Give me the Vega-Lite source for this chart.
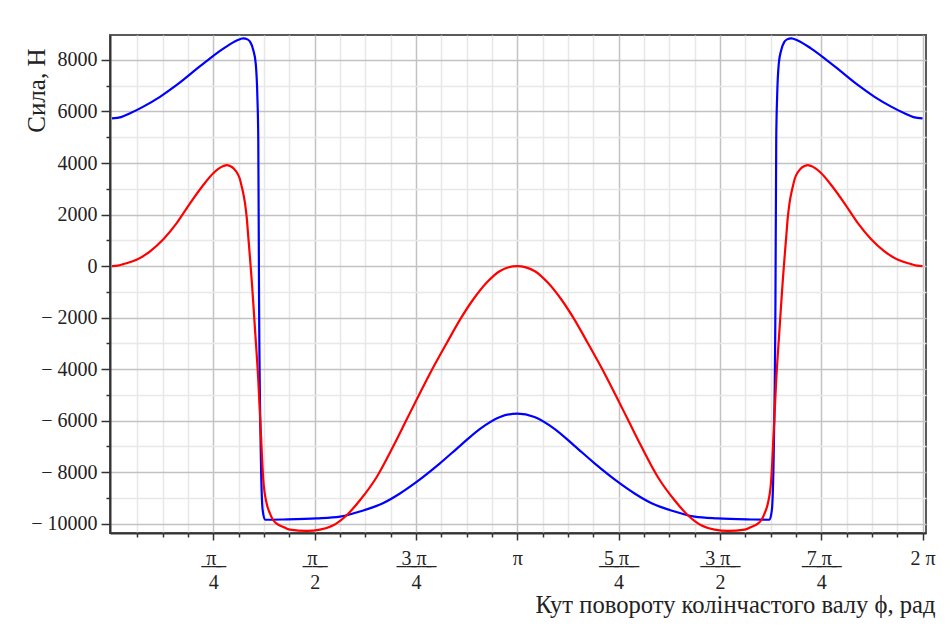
{
  "$schema": "https://vega.github.io/schema/vega-lite/v6.json",
  "width": 816,
  "height": 498,
  "autosize": {"type": "none"},
  "padding": {"left": 110, "top": 35, "right": 23, "bottom": 93},
  "background": "white",
  "config": {"view": {"stroke": "#5a5a5a", "strokeWidth": 2}, "font": "Liberation Serif, serif"},
  "datasets": {
    "blue": [
      {"phi": 0, "F": 5730}, {"phi": 0.07, "F": 5780}, {"phi": 0.14, "F": 5930}, {"phi": 0.243, "F": 6190}, {"phi": 0.372, "F": 6570},
      {"phi": 0.502, "F": 7030}, {"phi": 0.63, "F": 7545}, {"phi": 0.76, "F": 8065}, {"phi": 0.863, "F": 8440},
      {"phi": 0.967, "F": 8760}, {"phi": 1.018, "F": 8840}, {"phi": 1.05, "F": 8800}, {"phi": 1.07, "F": 8710},
      {"phi": 1.095, "F": 8390}, {"phi": 1.114, "F": 7870}, {"phi": 1.127, "F": 6575}, {"phi": 1.134, "F": 4890},
      {"phi": 1.14, "F": -1320}, {"phi": 1.153, "F": -7150}, {"phi": 1.168, "F": -9480}, {"phi": 1.186, "F": -9850},
      {"phi": 1.328, "F": -9840}, {"phi": 1.587, "F": -9800}, {"phi": 1.767, "F": -9730}, {"phi": 1.922, "F": -9530},
      {"phi": 2.1, "F": -9210}, {"phi": 2.232, "F": -8830}, {"phi": 2.356, "F": -8400}, {"phi": 2.542, "F": -7660},
      {"phi": 2.698, "F": -6980}, {"phi": 2.853, "F": -6320}, {"phi": 3.008, "F": -5860}, {"phi": 3.1416, "F": -5730},
      {"phi": 3.275, "F": -5860}, {"phi": 3.43, "F": -6320}, {"phi": 3.585, "F": -6980}, {"phi": 3.741, "F": -7660},
      {"phi": 3.927, "F": -8400}, {"phi": 4.051, "F": -8830}, {"phi": 4.183, "F": -9210}, {"phi": 4.361, "F": -9530},
      {"phi": 4.516, "F": -9730}, {"phi": 4.696, "F": -9800}, {"phi": 4.955, "F": -9840}, {"phi": 5.097, "F": -9850},
      {"phi": 5.115, "F": -9480}, {"phi": 5.13, "F": -7150}, {"phi": 5.143, "F": -1320}, {"phi": 5.149, "F": 4890},
      {"phi": 5.156, "F": 6575}, {"phi": 5.169, "F": 7870}, {"phi": 5.188, "F": 8390}, {"phi": 5.213, "F": 8710},
      {"phi": 5.233, "F": 8800}, {"phi": 5.265, "F": 8840}, {"phi": 5.316, "F": 8760}, {"phi": 5.42, "F": 8440},
      {"phi": 5.523, "F": 8065}, {"phi": 5.653, "F": 7545}, {"phi": 5.781, "F": 7030}, {"phi": 5.911, "F": 6570},
      {"phi": 6.04, "F": 6190}, {"phi": 6.143, "F": 5930}, {"phi": 6.213, "F": 5780}, {"phi": 6.2832, "F": 5730}
    ],
    "red": [
      {"phi": 0, "F": 0}, {"phi": 0.044, "F": 19}, {"phi": 0.088, "F": 75}, {"phi": 0.19, "F": 240}, {"phi": 0.295, "F": 570},
      {"phi": 0.4, "F": 1050}, {"phi": 0.5, "F": 1655}, {"phi": 0.605, "F": 2435}, {"phi": 0.708, "F": 3145},
      {"phi": 0.785, "F": 3600}, {"phi": 0.863, "F": 3880}, {"phi": 0.889, "F": 3920}, {"phi": 0.915, "F": 3880},
      {"phi": 0.945, "F": 3780}, {"phi": 0.967, "F": 3640}, {"phi": 0.99, "F": 3400}, {"phi": 1.005, "F": 3100},
      {"phi": 1.031, "F": 2440}, {"phi": 1.044, "F": 1910},
      {"phi": 1.057, "F": 1100}, {"phi": 1.07, "F": 300}, {"phi": 1.083, "F": -550}, {"phi": 1.096, "F": -1500},
      {"phi": 1.109, "F": -2490}, {"phi": 1.134, "F": -4430}, {"phi": 1.153, "F": -6375}, {"phi": 1.173, "F": -8315},
      {"phi": 1.199, "F": -9220}, {"phi": 1.225, "F": -9610}, {"phi": 1.25, "F": -9870}, {"phi": 1.277, "F": -10000},
      {"phi": 1.328, "F": -10130}, {"phi": 1.38, "F": -10235}, {"phi": 1.509, "F": -10285}, {"phi": 1.612, "F": -10235},
      {"phi": 1.716, "F": -10065}, {"phi": 1.819, "F": -9675}, {"phi": 1.922, "F": -9095}, {"phi": 2.052, "F": -8190},
      {"phi": 2.181, "F": -6990}, {"phi": 2.284, "F": -5960}, {"phi": 2.362, "F": -5180}, {"phi": 2.465, "F": -4170},
      {"phi": 2.595, "F": -2990}, {"phi": 2.698, "F": -2080}, {"phi": 2.801, "F": -1290}, {"phi": 2.905, "F": -640},
      {"phi": 3.008, "F": -190}, {"phi": 3.1416, "F": 0},
      {"phi": 3.275, "F": -190}, {"phi": 3.378, "F": -640}, {"phi": 3.482, "F": -1290}, {"phi": 3.585, "F": -2080},
      {"phi": 3.688, "F": -2990}, {"phi": 3.818, "F": -4170}, {"phi": 3.921, "F": -5180}, {"phi": 3.999, "F": -5960},
      {"phi": 4.102, "F": -6990}, {"phi": 4.231, "F": -8190}, {"phi": 4.361, "F": -9095}, {"phi": 4.464, "F": -9675},
      {"phi": 4.567, "F": -10065}, {"phi": 4.671, "F": -10235}, {"phi": 4.774, "F": -10285}, {"phi": 4.903, "F": -10235},
      {"phi": 4.955, "F": -10130}, {"phi": 5.006, "F": -10000}, {"phi": 5.033, "F": -9870}, {"phi": 5.058, "F": -9610},
      {"phi": 5.084, "F": -9220}, {"phi": 5.11, "F": -8315}, {"phi": 5.13, "F": -6375}, {"phi": 5.149, "F": -4430},
      {"phi": 5.174, "F": -2490}, {"phi": 5.187, "F": -1500}, {"phi": 5.2, "F": -550}, {"phi": 5.213, "F": 300},
      {"phi": 5.226, "F": 1100}, {"phi": 5.239, "F": 1910}, {"phi": 5.252, "F": 2440}, {"phi": 5.278, "F": 3100},
      {"phi": 5.293, "F": 3400}, {"phi": 5.316, "F": 3640}, {"phi": 5.338, "F": 3780}, {"phi": 5.368, "F": 3880},
      {"phi": 5.394, "F": 3920}, {"phi": 5.42, "F": 3880},
      {"phi": 5.498, "F": 3600}, {"phi": 5.575, "F": 3145}, {"phi": 5.678, "F": 2435}, {"phi": 5.783, "F": 1655},
      {"phi": 5.883, "F": 1050}, {"phi": 5.988, "F": 570}, {"phi": 6.093, "F": 240}, {"phi": 6.195, "F": 75},
      {"phi": 6.239, "F": 19}, {"phi": 6.2832, "F": 0}
    ]
  },
  "layer": [
    {
      "data": {"name": "blue"},
      "mark": {"type": "line", "color": "#0000ff", "strokeWidth": 2.2, "interpolate": "monotone", "clip": true},
      "encoding": {
        "x": {
          "field": "phi", "type": "quantitative",
          "scale": {"domain": [-0.0155, 6.31], "nice": false, "zero": false},
          "axis": {
            "orient": "bottom",
            "values": [0.785398, 1.570796, 2.356194, 3.141593, 3.926991, 4.712389, 5.497787, 6.283185],
            "domain": true, "domainColor": "#333333", "domainWidth": 2,
            "ticks": true, "tickSize": 7, "tickColor": "#333333", "tickWidth": 1.5,
            "grid": true, "gridColor": "#c2c2c2", "gridWidth": 1.5,
            "labelFont": "Liberation Serif, serif", "labelFontSize": 20, "labelColor": "#222222",
            "labelPadding": 8, "labelBaseline": "top", "labelAlign": "center", "labelLineHeight": 24,
            "labelFlush": false, "labelOverlap": false, "labelBound": false,
            "labelExpr": "round(datum.value / 0.785398) == 1 ? ['\u00a0\u0332π\u0332\u00a0\u0332', '4'] : round(datum.value / 0.785398) == 2 ? ['\u00a0\u0332π\u0332\u00a0\u0332', '2'] : round(datum.value / 0.785398) == 3 ? ['\u00a0\u03323\u0332\u00a0\u0332π\u0332\u00a0\u0332', '4'] : round(datum.value / 0.785398) == 4 ? 'π' : round(datum.value / 0.785398) == 5 ? ['\u00a0\u03325\u0332\u00a0\u0332π\u0332\u00a0\u0332', '4'] : round(datum.value / 0.785398) == 6 ? ['\u00a0\u03323\u0332\u00a0\u0332π\u0332\u00a0\u0332', '2'] : round(datum.value / 0.785398) == 7 ? ['\u00a0\u03327\u0332\u00a0\u0332π\u0332\u00a0\u0332', '4'] : '2 π'",
            "title": "Кут повороту колінчастого валу ϕ, рад",
            "titleFont": "Liberation Serif, serif", "titleFontSize": 24.6, "titleFontWeight": "normal", "titleColor": "#222222",
            "titleX": 825, "titleY": 79, "titleAlign": "right", "titleBaseline": "alphabetic", "titleAnchor": "end"
          }
        },
        "y": {
          "field": "F", "type": "quantitative",
          "scale": {"domain": [-10365, 8970], "nice": false, "zero": false},
          "axis": {
            "orient": "left",
            "values": [-10000, -8000, -6000, -4000, -2000, 0, 2000, 4000, 6000, 8000],
            "domain": true, "domainColor": "#333333", "domainWidth": 2,
            "ticks": true, "tickSize": 9, "tickColor": "#333333", "tickWidth": 1.5,
            "grid": true, "gridColor": "#c2c2c2", "gridWidth": 1.5,
            "labelFont": "Liberation Serif, serif", "labelFontSize": 20, "labelColor": "#222222",
            "labelPadding": 4, "labelFlush": false, "labelOverlap": false, "labelBound": false,
            "labelExpr": "datum.value < 0 ? '− ' + format(-datum.value, 'd') : format(datum.value, 'd')",
            "title": "Сила, Н",
            "titleFont": "Liberation Serif, serif", "titleFontSize": 25, "titleFontWeight": "normal", "titleColor": "#222222",
            "titleAngle": -90, "titleX": -74, "titleY": 13, "titleAlign": "right", "titleBaseline": "middle"
          }
        }
      }
    },
    {
      "data": {"name": "red"},
      "mark": {"type": "line", "color": "#ff0000", "strokeWidth": 2.2, "interpolate": "monotone", "clip": true},
      "encoding": {
        "x": {
          "field": "phi", "type": "quantitative",
          "axis": {
            "orient": "bottom",
            "values": [0.19635, 0.3927, 0.58905, 0.98175, 1.1781, 1.37445, 1.76715, 1.9635, 2.15984, 2.55254, 2.74889, 2.94524, 3.33794, 3.53429, 3.73064, 4.12334, 4.31969, 4.51604, 4.90874, 5.10509, 5.30144, 5.69414, 5.89049, 6.08684],
            "domain": false, "labels": false, "title": null,
            "ticks": true, "tickSize": 4, "tickColor": "#333333", "tickWidth": 1.5,
            "grid": true, "gridColor": "#e8e8e8", "gridWidth": 1.5
          }
        },
        "y": {
          "field": "F", "type": "quantitative",
          "axis": {
            "orient": "left",
            "values": [-9000, -7000, -5000, -3000, -1000, 1000, 3000, 5000, 7000],
            "domain": false, "labels": false, "title": null,
            "ticks": true, "tickSize": 4, "tickColor": "#333333", "tickWidth": 1.5,
            "grid": true, "gridColor": "#e8e8e8", "gridWidth": 1.5
          }
        }
      }
    }
  ],
  "resolve": {"axis": {"x": "independent", "y": "independent"}}
}
